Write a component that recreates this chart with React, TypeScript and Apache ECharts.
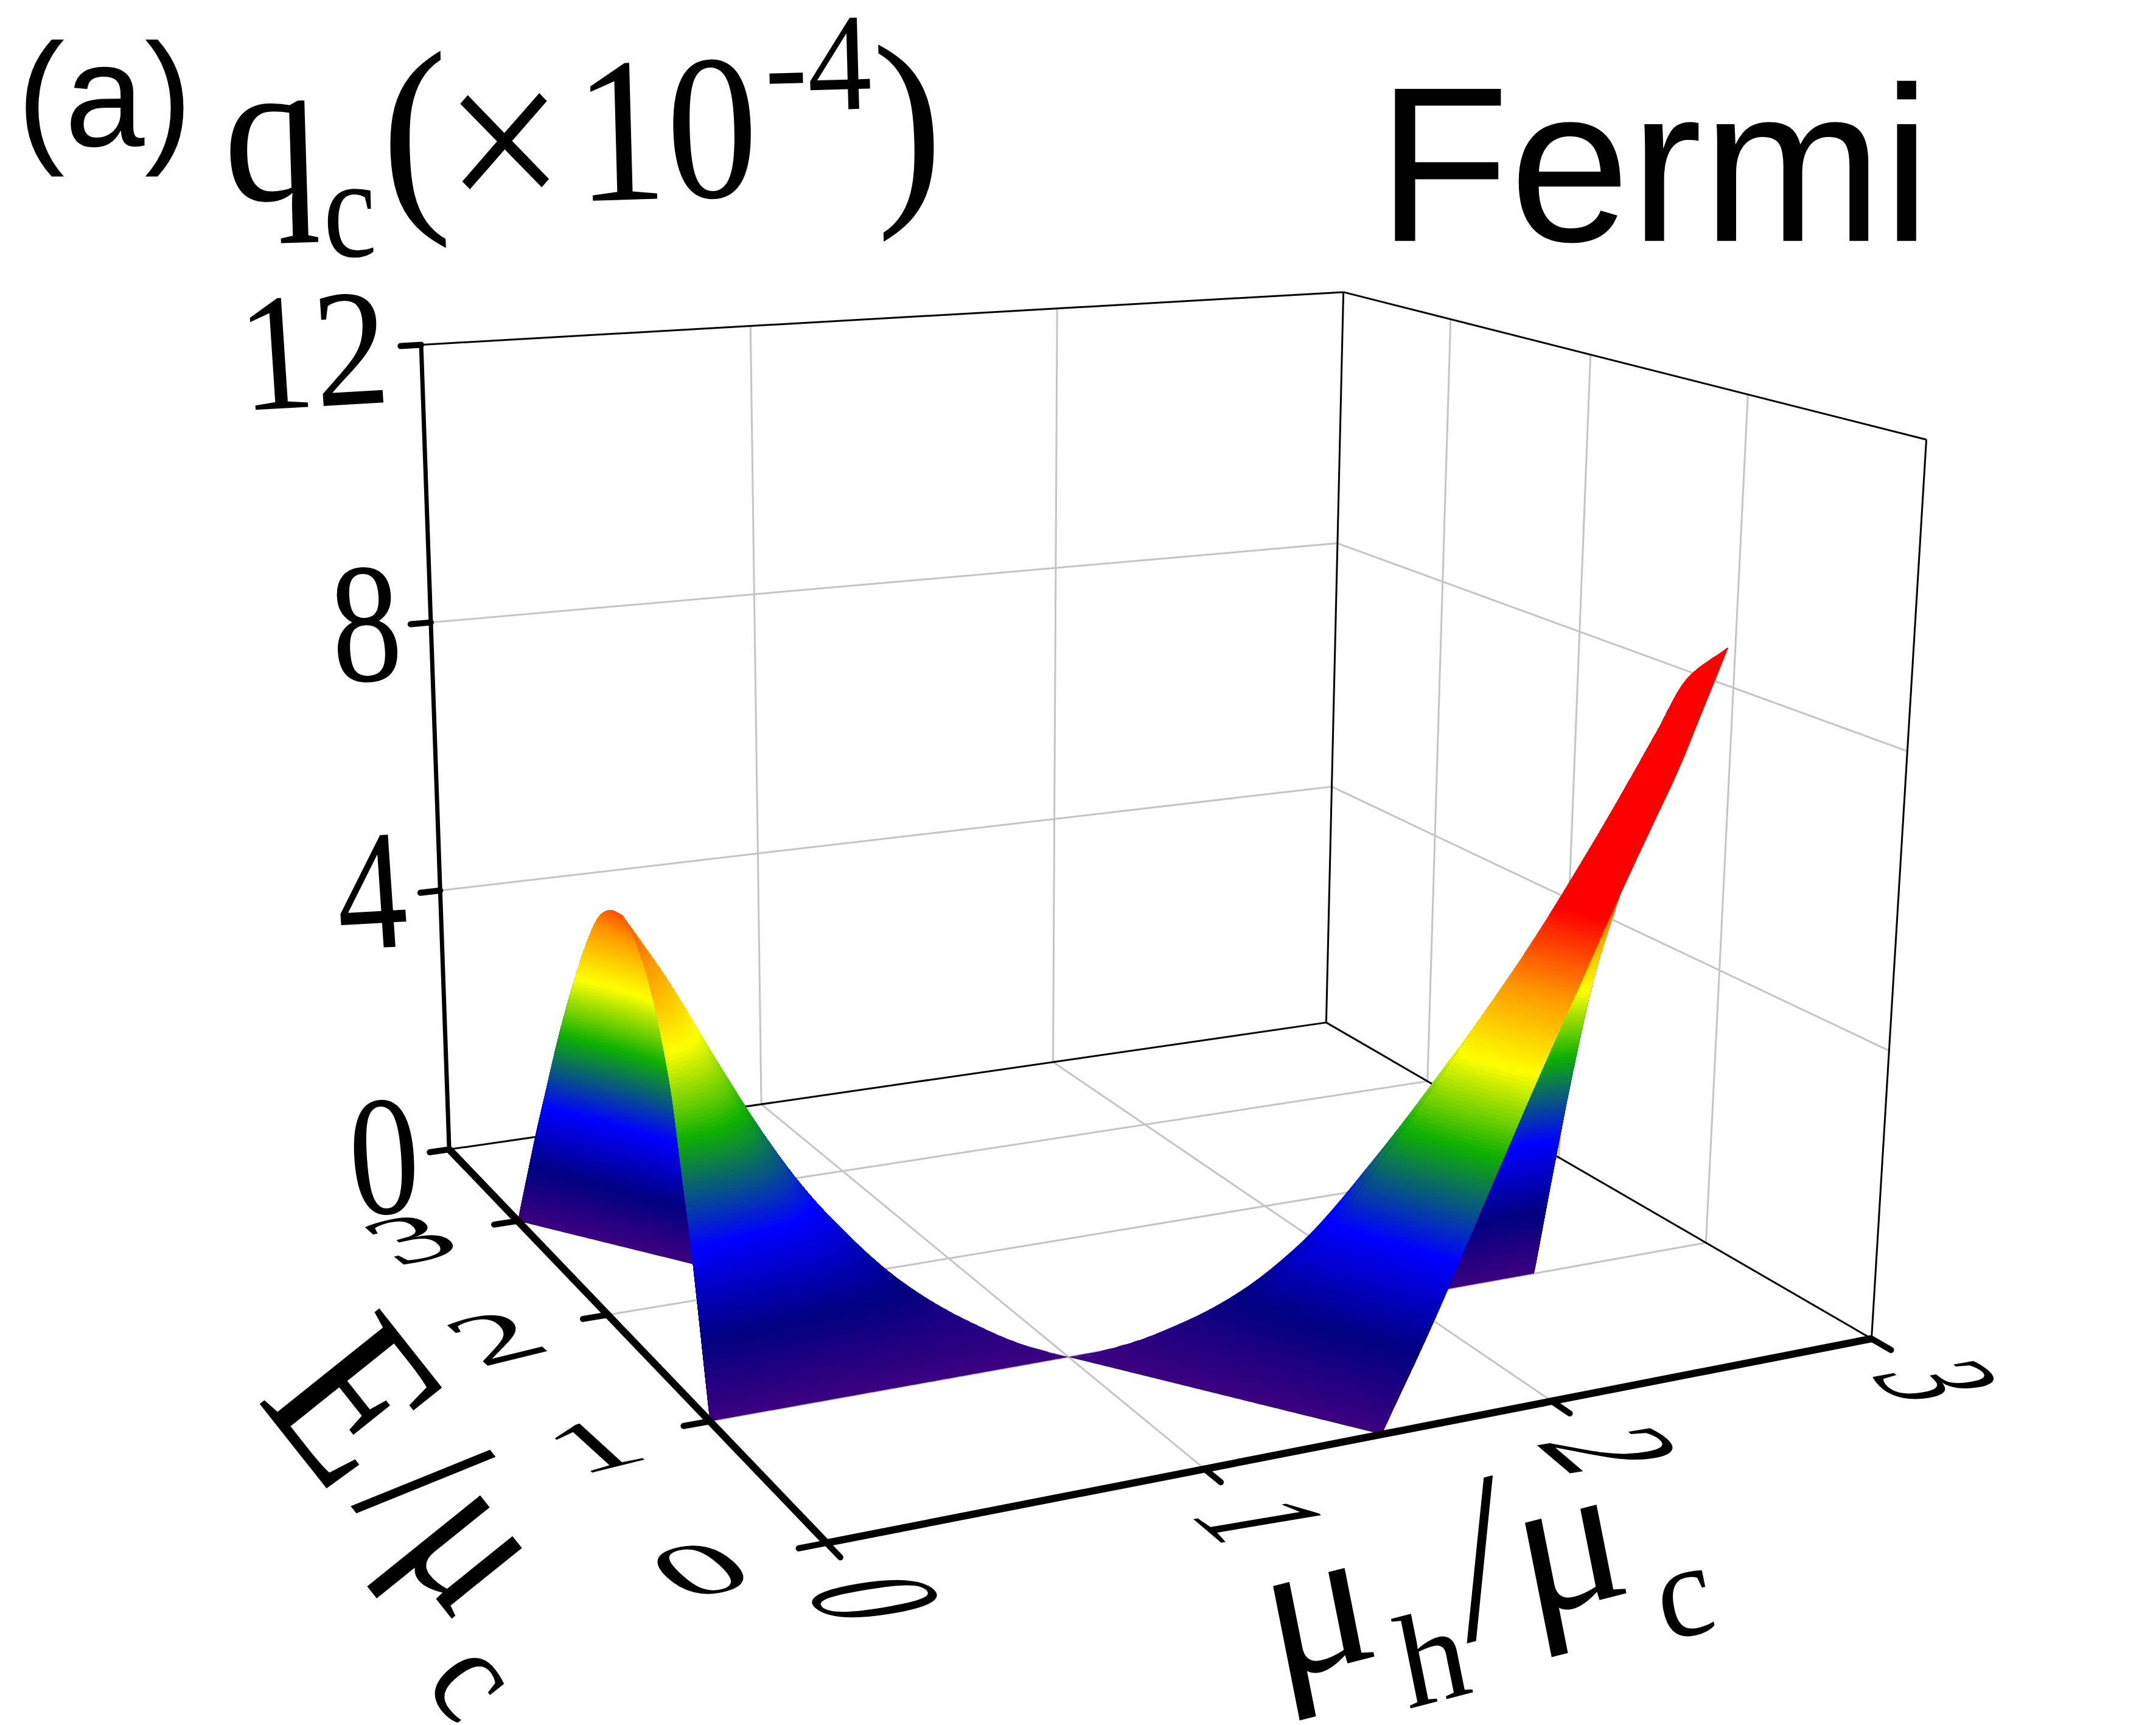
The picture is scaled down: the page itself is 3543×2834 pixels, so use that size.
import React, { useEffect, useRef } from "react";
import * as echarts from "echarts";

// ---------- axis values ----------
const MU_MAX = 3;
const E_MAX = 3.85;
const Q_MAX = 12;
const muTicks = [0, 1, 2, 3];
const eTicks = [0, 1, 2, 3];
const qTicks = [0, 4, 8, 12];

// ---------- surface values (q in units of 1e-4) ----------
const leftMu = [0, 0.1, 0.2, 0.3, 0.4, 0.5, 0.6, 0.7, 0.8, 0.9, 1];
const leftRidgeE = [1.75, 1.68, 1.6, 1.52, 1.45, 1.37, 1.3, 1.22, 1.15, 1.07, 1];
const leftRidgeQ = [5.8, 4.95, 3.95, 3.0, 2.2, 1.57, 1.05, 0.66, 0.36, 0.13, 0];
const leftFrontEdgeE = [1, 1, 1, 1, 1, 1, 1, 1, 1, 1, 1];
const leftBackEdgeE = [3, 2.8, 2.6, 2.4, 2.2, 2, 1.8, 1.6, 1.4, 1.2, 1];

const rightMu = [
  1, 1.065, 1.13, 1.195, 1.26, 1.325, 1.39, 1.455, 1.52, 1.585, 1.65, 1.715,
  1.78, 1.845, 1.91, 1.975, 2.04, 2.105, 2.17, 2.235, 2.3, 2.365, 2.43,
];
const rightRidgeE = [
  1, 0.935, 0.87, 0.805, 0.74, 0.675, 0.61, 0.55, 0.5, 0.46, 0.42, 0.375,
  0.33, 0.295, 0.26, 0.23, 0.205, 0.18, 0.16, 0.145, 0.13, 0.1, 0,
];
const rightRidgeQ = [
  0, 0.07, 0.2, 0.37, 0.6, 0.85, 1.15, 1.5, 1.9, 2.33, 2.85, 3.43,
  4.0, 4.55, 5.1, 5.65, 6.2, 6.78, 7.35, 7.92, 8.5, 9.15, 9.6,
];
const rightFrontEdgeE = [
  1, 0.87, 0.74, 0.61, 0.48, 0.35, 0.22, 0.09, -0.04, -0.17, -0.3, -0.43,
  -0.56, -0.69, -0.82, -0.95, -1.08, -1.21, -1.34, -1.47, -1.6, -1.73, -1.86,
];
const rightBackEdgeE = [
  1, 1, 1, 1, 1, 1, 1, 1, 1, 1, 1, 1,
  1, 1, 1, 1, 1, 1, 1, 1, 1, 1, 1,
];

// share of the ridge height, from the base edge (first) to the ridge (last)
const leftFrontProfile = [0, 0.19, 0.37, 0.52, 0.67, 0.77, 0.85, 0.91, 0.95, 0.985, 1];
const leftBackProfile = [0, 0.14, 0.28, 0.41, 0.54, 0.66, 0.77, 0.87, 0.95, 0.99, 1];
const rightBackProfile = [0, 0.17, 0.33, 0.47, 0.57, 0.66, 0.74, 0.81, 0.88, 0.94, 1];
const rightFrontProfile = [0, 0.14, 0.27, 0.39, 0.5, 0.6, 0.69, 0.78, 0.865, 0.94, 1];

const colorQ = [0, 1.0, 2.1, 3.4, 4.4, 5.3, 6.3, 12];
const colorRGB = [
  [60, 0, 128],
  [0, 0, 128],
  [0, 0, 255],
  [16, 176, 0],
  [255, 255, 0],
  [255, 153, 0],
  [255, 0, 0],
  [255, 0, 0],
];

// ---------- view calibration: where known box points fall on the page ----------
const calibWorld = [
  [0, 0, 0], [3, 0, 0], [0, E_MAX, 0], [3, E_MAX, 0], [0, E_MAX, 12], [3, E_MAX, 12], [3, 0, 12],
  [0, 1, 0], [0, 2, 0], [0, 3, 0], [1, 0, 0], [2, 0, 0], [1, 1, 0], [3, 1, 0], [0, E_MAX, 4], [0, E_MAX, 8],
];
const calibPage = [
  [1357, 2530], [3075, 2196], [739, 1888], [2180, 1679], [694, 566], [2205, 481], [3168, 723],
  [1167, 2335], [998, 2164], [854, 2007], [1979, 2418], [2547, 2301], [1756, 2230], [2806, 2043], [720, 1462], [708, 1021],
];

function solveProjection() {
  const n = 11;
  const A = Array.from({ length: n }, () => new Array(n + 1).fill(0));
  const add = (r: number[], v: number) => {
    for (let i = 0; i < n; i++) {
      for (let j = 0; j < n; j++) A[i][j] += r[i] * r[j];
      A[i][n] += r[i] * v;
    }
  };
  calibWorld.forEach(([X, Y, Z], k) => {
    const u = calibPage[k][0] / 1000;
    const v = calibPage[k][1] / 1000;
    add([X, Y, Z, 1, 0, 0, 0, 0, -u * X, -u * Y, -u * Z], u);
    add([0, 0, 0, 0, X, Y, Z, 1, -v * X, -v * Y, -v * Z], v);
  });
  for (let c = 0; c < n; c++) {
    let p = c;
    for (let r = c + 1; r < n; r++) if (Math.abs(A[r][c]) > Math.abs(A[p][c])) p = r;
    [A[c], A[p]] = [A[p], A[c]];
    for (let r = 0; r < n; r++) {
      if (r === c) continue;
      const f = A[r][c] / A[c][c];
      for (let k = c; k <= n; k++) A[r][k] -= f * A[c][k];
    }
  }
  return A.map((row, i) => row[n] / row[i]);
}
const P = solveProjection();
function project(mu: number, E: number, q: number): [number, number] {
  const w = P[8] * mu + P[9] * E + P[10] * q + 1;
  return [
    (1000 * (P[0] * mu + P[1] * E + P[2] * q + P[3])) / w,
    (1000 * (P[4] * mu + P[5] * E + P[6] * q + P[7])) / w,
  ];
}

// smooth reading of a sampled list at a fractional index (ends run straight)
function smoothAt(list: number[], t: number) {
  const n = list.length - 1;
  const c = Math.max(0, Math.min(n, t));
  const i = Math.min(n - 1, Math.floor(c));
  const f = c - i;
  const p1 = list[i];
  const p2 = list[i + 1];
  const p0 = i > 0 ? list[i - 1] : 2 * p1 - p2;
  const p3 = i + 2 <= n ? list[i + 2] : 2 * p2 - p1;
  return 0.5 * (2 * p1 + (p2 - p0) * f + (2 * p0 - 5 * p1 + 4 * p2 - p3) * f * f + (3 * p1 - p0 - 3 * p2 + p3) * f * f * f);
}
function colorFor(q: number) {
  let i = 0;
  while (i < colorQ.length - 2 && q > colorQ[i + 1]) i++;
  const f = Math.max(0, Math.min(1, (q - colorQ[i]) / (colorQ[i + 1] - colorQ[i])));
  const a = colorRGB[i];
  const b = colorRGB[i + 1];
  return `rgb(${Math.round(a[0] + (b[0] - a[0]) * f)},${Math.round(a[1] + (b[1] - a[1]) * f)},${Math.round(a[2] + (b[2] - a[2]) * f)})`;
}

const sheets = [
  { mu: leftMu, edge: leftBackEdgeE, ridgeE: leftRidgeE, ridgeQ: leftRidgeQ, profile: leftBackProfile },
  { mu: leftMu, edge: leftFrontEdgeE, ridgeE: leftRidgeE, ridgeQ: leftRidgeQ, profile: leftFrontProfile },
  { mu: rightMu, edge: rightBackEdgeE, ridgeE: rightRidgeE, ridgeQ: rightRidgeQ, profile: rightBackProfile },
  { mu: rightMu, edge: rightFrontEdgeE, ridgeE: rightRidgeE, ridgeQ: rightRidgeQ, profile: rightFrontProfile },
];

const COLUMNS = 220;
const BAND = 0.05;
const TOP_BAND = 6.3;
const END_STEPS = 24;

// position across the sheet (0 edge, 1 ridge) at which the profile reaches a share
function shareToS(profile: number[], share: number) {
  const n = profile.length - 1;
  let lo = 0;
  let hi = 1;
  for (let k = 0; k < 24; k++) {
    const m = (lo + hi) / 2;
    if (smoothAt(profile, m * n) < share) lo = m;
    else hi = m;
  }
  return (lo + hi) / 2;
}

// every colour band is one polygon: the part of the sheet at or above that height
function renderSheet(params: any, api: any) {
  const sh = sheets[api.value(0)];
  const last = sh.mu.length - 1;
  const pn = sh.profile.length - 1;
  const cols: any[] = [];
  for (let i = 0; i <= COLUMNS; i++) {
    const t = (i / COLUMNS) * last;
    const low = smoothAt(sh.edge, t);
    const rE = smoothAt(sh.ridgeE, t);
    const sMin = low < 0 ? Math.min(1, -low / Math.max(1e-6, rE - low)) : 0;
    cols.push({ mu: smoothAt(sh.mu, t), low, rE, rQ: Math.max(0, smoothAt(sh.ridgeQ, t)), sMin });
  }
  const pointAt = (c: any, s: number) => {
    const E = Math.max(0, c.low + (c.rE - c.low) * s);
    return api.coord(project(c.mu, E, c.rQ * smoothAt(sh.profile, s * pn)));
  };
  const startS = (c: any, qk: number) =>
    qk <= 0 || c.rQ <= 0 ? c.sMin : Math.max(c.sMin, shareToS(sh.profile, qk / c.rQ));
  const children: any[] = [];
  for (let qk = 0; qk <= TOP_BAND + 1e-9; qk += BAND) {
    const used = cols.filter((c) => c.rQ >= qk);
    if (used.length < 2) continue;
    const pts: number[][] = [];
    used.forEach((c) => pts.push(pointAt(c, startS(c, qk))));
    // up the far end of the sheet, following its curve
    const endC = used[used.length - 1];
    const endS = startS(endC, qk);
    for (let k = 1; k <= END_STEPS; k++) pts.push(pointAt(endC, endS + ((1 - endS) * k) / END_STEPS));
    // back along the ridge
    for (let i = used.length - 2; i >= 1; i--) pts.push(pointAt(used[i], 1));
    // down the near end of the sheet
    const firstC = used[0];
    const firstS = startS(firstC, qk);
    for (let k = END_STEPS; k >= 1; k--) pts.push(pointAt(firstC, firstS + ((1 - firstS) * k) / END_STEPS));
    children.push({
      type: "polygon",
      shape: { points: pts },
      style: { fill: colorFor(qk + BAND / 2) },
      silent: true,
    });
  }
  return { type: "group", children };
}

function renderLine(color: string, width: number, cap: string) {
  return (params: any, api: any) => {
    const [x1, y1] = project(api.value(0), api.value(1), api.value(2));
    const [x2, y2] = project(api.value(3), api.value(4), api.value(5));
    const a = api.coord([x1, y1]);
    const b = api.coord([x2, y2]);
    return {
      type: "line",
      shape: { x1: a[0], y1: a[1], x2: b[0], y2: b[1] },
      style: { stroke: color, lineWidth: width, lineCap: cap },
      silent: true,
    };
  };
}

const inner = (t: number[]) => t.filter((v) => v > 0 && v < Math.max(...t));
const gridLines = [
  ...inner(muTicks).map((m) => [m, 0, 0, m, E_MAX, 0]),
  ...eTicks.filter((e) => e > 0).map((e) => [0, e, 0, MU_MAX, e, 0]),
  ...inner(muTicks).map((m) => [m, E_MAX, 0, m, E_MAX, Q_MAX]),
  ...eTicks.filter((e) => e > 0).map((e) => [MU_MAX, e, 0, MU_MAX, e, Q_MAX]),
  ...inner(qTicks).map((q) => [0, E_MAX, q, MU_MAX, E_MAX, q]),
  ...inner(qTicks).map((q) => [MU_MAX, 0, q, MU_MAX, E_MAX, q]),
];
const frameLines = [
  [0, E_MAX, 0, MU_MAX, E_MAX, 0],
  [MU_MAX, 0, 0, MU_MAX, E_MAX, 0],
  [MU_MAX, E_MAX, 0, MU_MAX, E_MAX, Q_MAX],
  [0, E_MAX, Q_MAX, MU_MAX, E_MAX, Q_MAX],
  [MU_MAX, E_MAX, Q_MAX, MU_MAX, 0, Q_MAX],
  [MU_MAX, 0, Q_MAX, MU_MAX, 0, 0],
];
const heavyAxes = [
  [0, 0, 0, MU_MAX, 0, 0],
  [0, 0, 0, 0, E_MAX, 0],
];
const qAxis = [[0, E_MAX, 0, 0, E_MAX, Q_MAX]];
const tickLines = [
  ...muTicks.map((m) => [m, 0, 0, m, -0.11, 0]),
  ...eTicks.map((e) => [0, e, 0, -0.07, e, 0]),
  ...qTicks.map((q) => [0, E_MAX, q, -0.06, E_MAX, q]),
];

// ---------- text: centre on the page, advance vector a, down vector b per font px ----------
const SERIF = "Liberation Serif";
const SANS = "Liberation Sans";
type Label = { t: string; c: number[]; a: number[]; b: number[]; font?: string; oy?: number };
const labels: Label[] = [
  { t: "(a)", c: [172, 178], a: [2.36, 0], b: [0, 2.41], font: SANS, oy: -9 },
  { t: "q", c: [447, 292], a: [3.14, -0.1], b: [0.1, 3.36], oy: -23 },
  { t: "c", c: [575, 370], a: [1.96, -0.06], b: [0.06, 2.35], oy: -12 },
  { t: "(", c: [683, 248], a: [3.37, -0.1], b: [0.1, 3.57], oy: -10 },
  { t: "\u00d7", c: [830, 268], a: [3.5, -0.1], b: [0.1, 3.8], oy: -10 },
  { t: "10", c: [1095, 211], a: [3.0, -0.09], b: [0.09, 3.4] },
  { t: "-4", c: [1344, 104], a: [2.11, -0.06], b: [0.06, 2.28] },
  { t: ")", c: [1493, 235], a: [3.37, -0.1], b: [0.1, 3.57], oy: -10 },
  { t: "Fermi", c: [2718, 270], a: [3.56, 0], b: [0, 3.63], font: SANS },
  { t: String(qTicks[3]), c: [515, 575], a: [2.45, -0.14], b: [0.18, 2.74] },
  { t: String(qTicks[2]), c: [601, 1024], a: [2.3, -0.13], b: [0.19, 2.8] },
  { t: String(qTicks[1]), c: [610, 1463], a: [2.3, -0.13], b: [0.19, 2.8] },
  { t: String(qTicks[0]), c: [631, 1899], a: [2.3, -0.13], b: [0.19, 2.8] },
  { t: String(eTicks[3]), c: [674, 2035], a: [2.3, -0.57], b: [1.06, 0.96] },
  { t: String(eTicks[2]), c: [814, 2197], a: [2.44, -0.6], b: [1.12, 1.02] },
  { t: String(eTicks[1]), c: [975, 2375], a: [2.44, -0.6], b: [1.12, 1.02] },
  { t: String(eTicks[0]), c: [1150, 2578], a: [2.55, -0.63], b: [1.17, 1.07] },
  { t: String(muTicks[0]), c: [1440, 2626], a: [1.35, 1.15], b: [-2.85, 0.48] },
  { t: String(muTicks[1]), c: [2075, 2498], a: [1.3, 1.1], b: [-2.75, 0.46] },
  { t: String(muTicks[2]), c: [2650, 2382], a: [1.35, 1.15], b: [-2.85, 0.48] },
  { t: String(muTicks[3]), c: [3186, 2268], a: [1.2, 1.02], b: [-2.6, 0.44] },
  { t: "E", c: [586, 2299], a: [2.1, 2.65], b: [-3.0, 2.4] },
  { t: "/", c: [699, 2431], a: [1.93, 2.43], b: [-2.76, 2.22] },
  { t: "\u03bc", c: [731, 2578], a: [1.93, 2.43], b: [-2.76, 2.22], oy: -22 },
  { t: "c", c: [762, 2772], a: [1.3, 1.6], b: [-1.8, 1.45], oy: -12 },
  { t: "\u03bc", c: [2176, 2702], a: [3.3, -0.84], b: [0.65, 3.28], oy: -22 },
  { t: "h", c: [2354, 2722], a: [2.2, -0.57], b: [0.43, 2.13] },
  { t: "/", c: [2431, 2557], a: [3.1, -0.79], b: [0.65, 3.8] },
  { t: "\u03bc", c: [2590, 2598], a: [3.3, -0.84], b: [0.65, 3.28], oy: -22 },
  { t: "c", c: [2771, 2640], a: [2.0, -0.52], b: [0.43, 2.13], oy: -12 },
];

function labelElement(l: Label) {
  const [ax, ay] = l.a;
  const [bx, by] = l.b;
  const E = (ax + by) / 2;
  const F = (ax - by) / 2;
  const G = (ay + bx) / 2;
  const H = (ay - bx) / 2;
  const Q = Math.hypot(E, H);
  const R = Math.hypot(F, G);
  const a1 = Math.atan2(G, F);
  const a2 = Math.atan2(H, E);
  const theta = (a2 - a1) / 2;
  const phi = (a2 + a1) / 2;
  return {
    type: "group",
    x: l.c[0],
    y: l.c[1],
    rotation: -phi,
    children: [
      {
        type: "group",
        scaleX: Q + R,
        scaleY: Q - R,
        children: [
          {
            type: "group",
            rotation: -theta,
            children: [
              {
                type: "text",
                x: 0,
                y: l.oy || 0,
                silent: true,
                style: {
                  text: l.t,
                  fontFamily: l.font || SERIF,
                  fontSize: 100,
                  fill: "#000",
                  textAlign: "center",
                  textVerticalAlign: "middle",
                },
              },
            ],
          },
        ],
      },
    ],
  };
}

function lineSeries(name: string, data: number[][], color: string, width: number, cap: string, z: number) {
  return {
    type: "custom",
    name,
    coordinateSystem: "cartesian2d",
    clip: false,
    silent: true,
    z,
    encode: { x: 0, y: 1 },
    data,
    renderItem: renderLine(color, width, cap),
  };
}

export default function App() {
  const ref = useRef<HTMLDivElement>(null);
  useEffect(() => {
    const chart = echarts.init(ref.current!, undefined, { renderer: "svg" });
    chart.setOption({
      animation: false,
      backgroundColor: "#ffffff",
      grid: { left: 0, right: 0, top: 0, bottom: 0 },
      xAxis: { type: "value", min: 0, max: 3543, show: false },
      yAxis: { type: "value", min: 0, max: 2834, inverse: true, show: false },
      graphic: { elements: labels.map(labelElement) },
      series: [
        lineSeries("grid", gridLines, "#c4c4c4", 3, "butt", 1),
        lineSeries("frame", frameLines, "#000000", 3, "butt", 2),
        {
          type: "custom",
          name: "surface",
          coordinateSystem: "cartesian2d",
          clip: false,
          silent: true,
          z: 3,
          encode: { x: 0, y: 1 },
          data: sheets.map((_, i) => [i, 0]),
          renderItem: renderSheet,
        },
        lineSeries("q axis", qAxis, "#000000", 7, "butt", 4),
        lineSeries("axes", heavyAxes, "#000000", 12, "butt", 5),
        lineSeries("ticks", tickLines, "#000000", 10, "round", 5),
      ],
    });
    return () => chart.dispose();
  }, []);
  return <div ref={ref} style={{ position: "absolute", left: 0, top: 0, width: 3543, height: 2834 }} />;
}
